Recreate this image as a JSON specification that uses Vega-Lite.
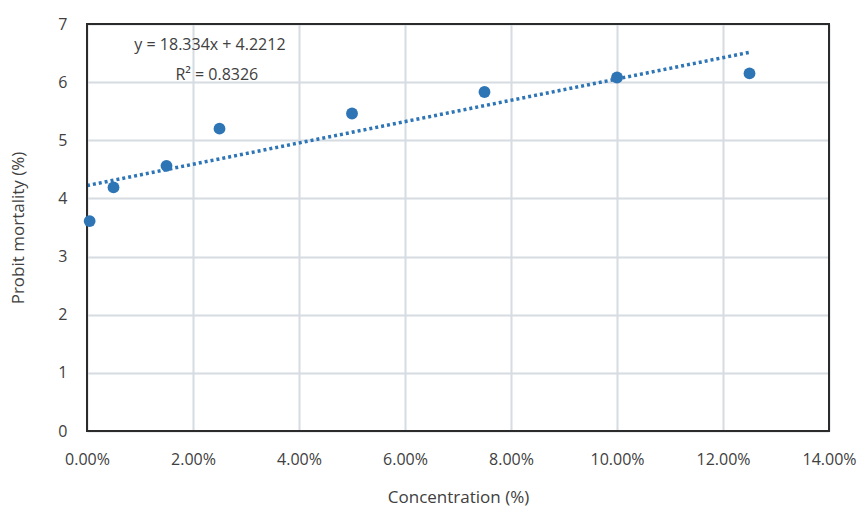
{
  "$schema": "https://vega.github.io/schema/vega-lite/v6.json",
  "width": 742,
  "height": 407,
  "autosize": {"type": "none"},
  "padding": {"left": 87, "top": 24, "right": 33, "bottom": 77},
  "background": "white",
  "config": {
    "view": {"stroke": null},
    "font": "Open Sans",
    "axis": {
      "domain": false,
      "ticks": false,
      "grid": true,
      "gridColor": "#d6dce2",
      "gridWidth": 2,
      "labelFontSize": 16,
      "labelColor": "#404040",
      "titleColor": "#404040",
      "titleFontSize": 17,
      "titleFontWeight": "normal",
      "labelPadding": 20
    }
  },
  "datasets": {
    "points": [
      {"conc": 0.0005, "probit": 3.61},
      {"conc": 0.005, "probit": 4.19},
      {"conc": 0.015, "probit": 4.56},
      {"conc": 0.025, "probit": 5.2},
      {"conc": 0.05, "probit": 5.46},
      {"conc": 0.075, "probit": 5.83},
      {"conc": 0.1, "probit": 6.08},
      {"conc": 0.125, "probit": 6.15}
    ],
    "trend": [
      {"conc": 0, "probit": 4.2212},
      {"conc": 0.125, "probit": 6.513}
    ],
    "frame": [
      {"x0": 0, "x1": 0.14, "y0": 0, "y1": 7}
    ],
    "labels": [
      {"conc": 0.0232, "probit": 6.64, "text": "y = 18.334x + 4.2212"},
      {"conc": 0.0245, "probit": 6.13, "text": "R² = 0.8326"}
    ]
  },
  "layer": [
    {
      "data": {"name": "trend"},
      "mark": {"type": "line", "color": "#2e75b6", "strokeWidth": 3.5, "strokeDash": [3, 3]},
      "encoding": {
        "x": {
          "field": "conc", "type": "quantitative",
          "scale": {"domain": [0, 0.14], "nice": false},
          "axis": {
            "format": ".2%",
            "values": [0, 0.02, 0.04, 0.06, 0.08, 0.1, 0.12, 0.14],
            "labelFlush": false,
            "labelAlign": "center",
            "title": "Concentration (%)",
            "titlePadding": 22
          }
        },
        "y": {
          "field": "probit", "type": "quantitative",
          "scale": {"domain": [0, 7], "nice": false},
          "axis": {
            "format": "d",
            "values": [0, 1, 2, 3, 4, 5, 6, 7],
            "title": "Probit mortality (%)",
            "titlePadding": 30
          }
        }
      }
    },
    {
      "data": {"name": "frame"},
      "mark": {"type": "rect", "fill": null, "fillOpacity": 0, "stroke": "#2b2b2b", "strokeWidth": 2},
      "encoding": {
        "x": {"field": "x0", "type": "quantitative"},
        "x2": {"field": "x1"},
        "y": {"field": "y0", "type": "quantitative"},
        "y2": {"field": "y1"}
      }
    },
    {
      "data": {"name": "points"},
      "mark": {"type": "circle", "size": 140, "color": "#2e75b6", "opacity": 1},
      "encoding": {
        "x": {"field": "conc", "type": "quantitative"},
        "y": {"field": "probit", "type": "quantitative"}
      }
    },
    {
      "data": {"name": "labels"},
      "mark": {"type": "text", "fontSize": 16, "color": "#404040", "font": "Open Sans"},
      "encoding": {
        "x": {"field": "conc", "type": "quantitative"},
        "y": {"field": "probit", "type": "quantitative"},
        "text": {"field": "text"}
      }
    }
  ]
}
